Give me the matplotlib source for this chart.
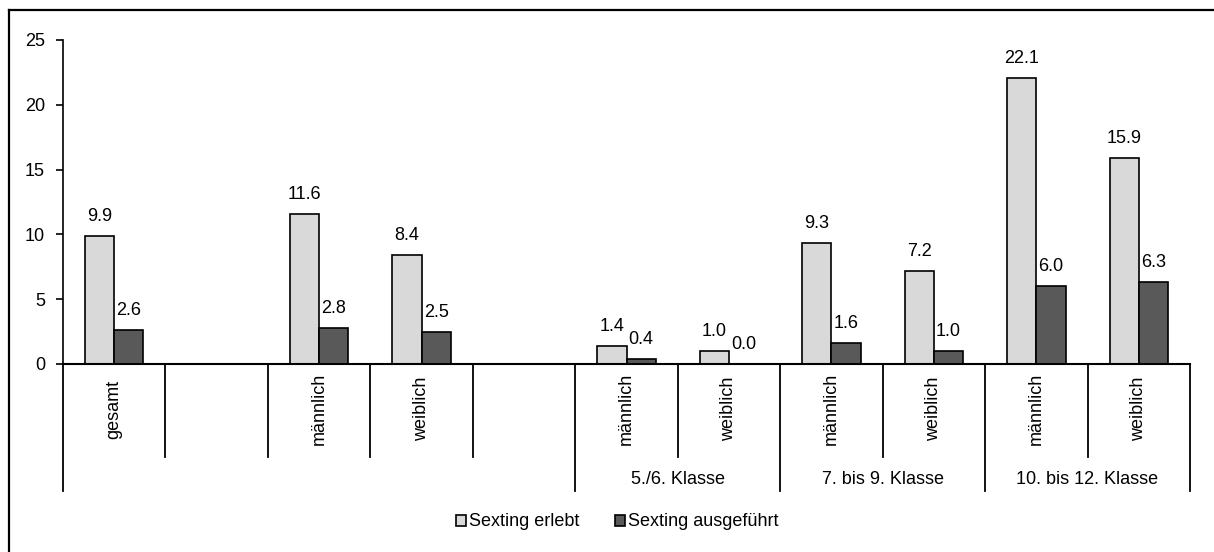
import numpy as np
import matplotlib
matplotlib.use("Agg")
import matplotlib.pyplot as plt
from matplotlib.lines import Line2D
from matplotlib.patches import Patch

plt.rcParams['font.family'] = ['Liberation Sans', 'DejaVu Sans']

categories = ["gesamt", "", "männlich", "weiblich", "", "männlich", "weiblich",
              "männlich", "weiblich", "männlich", "weiblich"]
groups = ["5./6. Klasse", "7. bis 9. Klasse", "10. bis 12. Klasse"]
group_spans = [(5, 6), (7, 8), (9, 10)]
erlebt = [9.9, np.nan, 11.6, 8.4, np.nan, 1.4, 1.0, 9.3, 7.2, 22.1, 15.9]
ausgefuehrt = [2.6, np.nan, 2.8, 2.5, np.nan, 0.4, 0.0, 1.6, 1.0, 6.0, 6.3]
series_names = ["Sexting erlebt", "Sexting ausgeführt"]
yticks = [0, 5, 10, 15, 20, 25]

FS = 13
W, H = 1214, 552
fig = plt.figure(figsize=(W / 100, H / 100), dpi=100)
ax = fig.add_axes([63 / W, 1 - 364 / H, (1190 - 63) / W, (364 - 40) / H])

c_light = "#d9d9d9"
c_dark = "#595959"
x = np.arange(len(categories))
bw = 0.285
ax.bar(x - bw / 2, erlebt, bw, color=c_light, edgecolor="black", linewidth=1.2)
ax.bar(x + bw / 2, ausgefuehrt, bw, color=c_dark, edgecolor="black", linewidth=1.2)

for xs, vals in ((x - bw / 2, erlebt), (x + bw / 2, ausgefuehrt)):
    for xi, v in zip(xs, vals):
        if np.isnan(v):
            continue
        ax.annotate(f"{v:.1f}", (xi, v), xytext=(0, 15), textcoords="offset pixels",
                    ha="center", va="baseline", fontsize=FS)

ax.set_xlim(-0.5, len(categories) - 0.5)
ax.set_ylim(0, 25)
ax.set_yticks(yticks)
ax.set_yticklabels([str(t) for t in yticks], fontsize=FS)
ax.tick_params(axis="y", direction="out", length=5, width=1.2, pad=8)
ax.set_xticks([])
for s in ("top", "right"):
    ax.spines[s].set_visible(False)
ax.spines["left"].set_linewidth(1.2)
ax.spines["bottom"].set_linewidth(1.5)

trans = ax.get_xaxis_transform()
short_y = (364 - 457) / 324
long_y = (364 - 491) / 324
long_positions = {-0.5, 4.5, 6.5, 8.5, 10.5}
for i in range(len(categories) + 1):
    xb = i - 0.5
    yb = long_y if xb in long_positions else short_y
    ax.add_line(Line2D([xb, xb], [0, yb], transform=trans, color="black",
                       linewidth=1.3, clip_on=False))

lab_y = (364 - 409) / 324
for i, c in enumerate(categories):
    if c:
        ax.text(i, lab_y, c, transform=trans, rotation=90, ha="center", va="center",
                fontsize=FS)

grp_y = (364 - 480) / 324
for g, (a, b) in zip(groups, group_spans):
    ax.text((a + b) / 2, grp_y, g, transform=trans, ha="center", va="center", fontsize=FS)

handles = [Patch(facecolor=c_light, edgecolor="black", linewidth=1.2),
           Patch(facecolor=c_dark, edgecolor="black", linewidth=1.2)]
fig.legend(handles, series_names, loc="center", bbox_to_anchor=(617 / W, 1 - 522 / H),
           ncol=2, frameon=False, fontsize=FS, handlelength=0.55, handleheight=0.55,
           handletextpad=0.15, columnspacing=2.0)

# outer frame
fig.add_artist(Line2D([9 / W, 9 / W], [0, 1 - 10 / H], transform=fig.transFigure,
                      color="black", linewidth=1.6))
fig.add_artist(Line2D([9 / W, 1], [1 - 10 / H, 1 - 10 / H], transform=fig.transFigure,
                      color="black", linewidth=1.6))

fig.savefig("out.png", dpi=100)
